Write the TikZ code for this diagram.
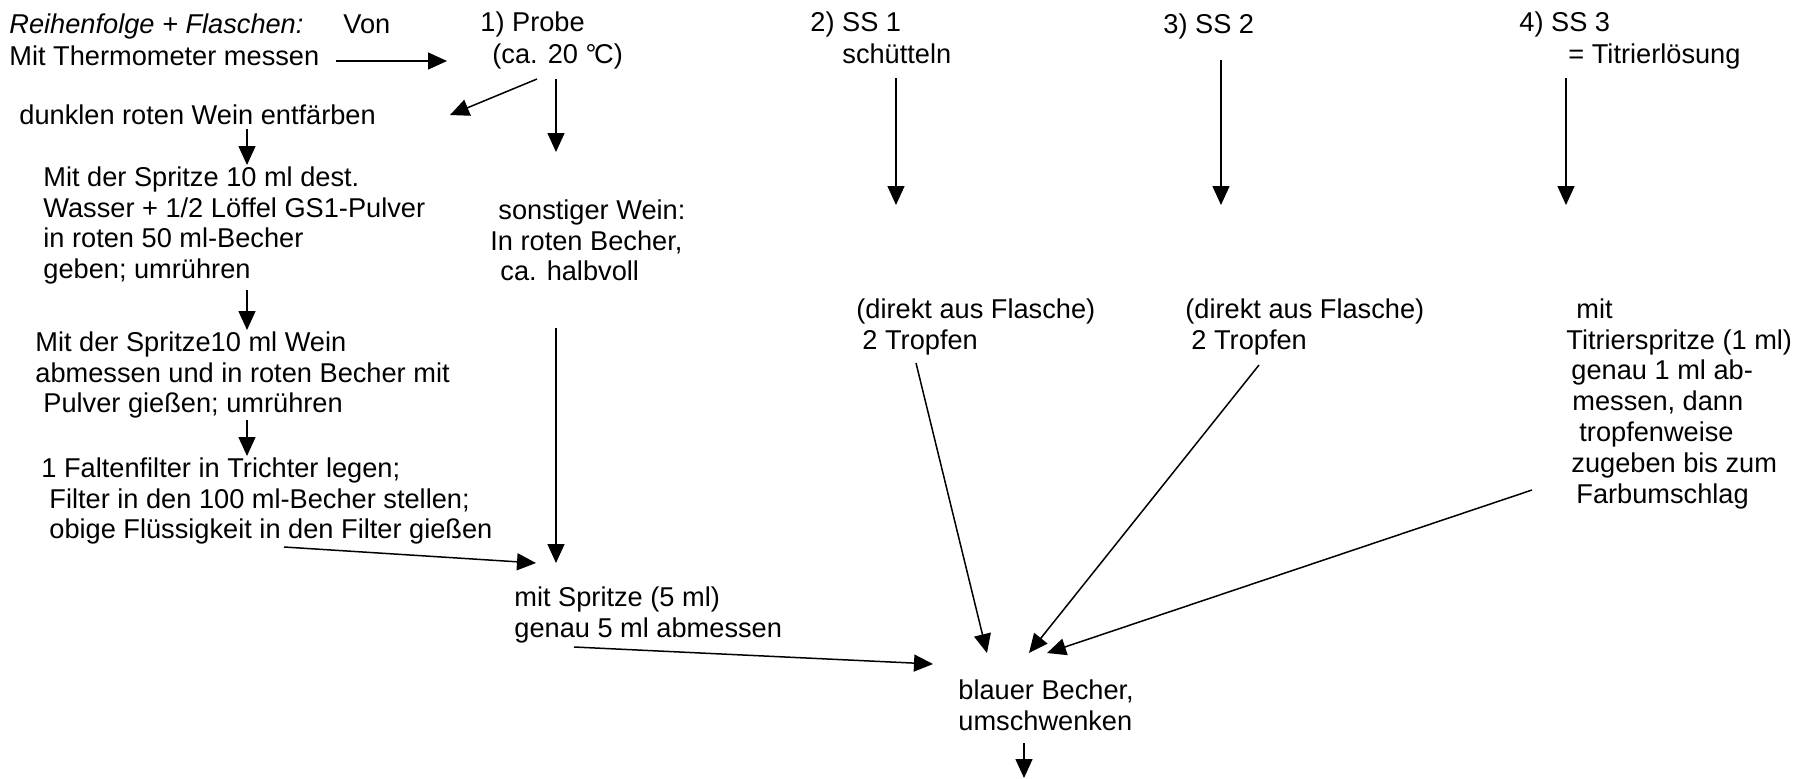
\documentclass[tikz,border=0pt]{standalone}
\usepackage{fontspec}
\setmainfont{Liberation Sans}
\usetikzlibrary{arrows.meta}
\begin{document}
\begin{tikzpicture}[x=0.5pt,y=-0.5pt,
  txt/.style={anchor=north west, inner sep=0pt, align=left,
    font=\fontsize{13.6pt}{15.4pt}\selectfont, execute at begin node=\strut, yshift=5.9pt},
  arr/.style={-{Triangle[length=9.5pt,width=8.5pt]}, line width=0.75pt}]
\useasboundingbox (0,0) rectangle (1811,778);
% header rows
\node[txt] (title) at (9,23) {\itshape Reihenfolge + Flaschen:};
\node[txt] (von) at (343,23) {Von};
\node[txt] (thermo) at (9,55) {Mit Thermometer messen};
\node[txt] (probe) at (480,23) {1) Probe\\[0.6pt]\hspace*{6pt}(ca. 20 °\kern-1.2pt C)};
\node[txt] (ss1) at (810,23) {2) SS 1\\[0.6pt]\hspace*{16pt}schütteln};
\node[txt] (ss2) at (1163,23) {3) SS 2};
\node[txt] (ss3) at (1519,23) {4) SS 3\\[0.6pt]\hspace*{24.5pt}= Titrierlösung};
% left column
\node[txt] (entf) at (19,114) {dunklen roten Wein entfärben};
\node[txt] (b1) at (43,178) {Mit der Spritze 10 ml dest.\\Wasser + 1/2 Löffel GS1-Pulver\\in roten 50 ml-Becher\\geben; umrühren};
\node[txt] (sonst) at (490,211) {\hspace*{4pt}sonstiger Wein:\\In roten Becher,\\\hspace*{5pt}ca. halbvoll};
\node[txt] (b2) at (35,343) {Mit der Spritze10 ml Wein\\abmessen und in roten Becher mit\\\hspace*{4pt}Pulver gießen; umrühren};
\node[txt] (b3) at (41,469) {1 Faltenfilter in Trichter legen;\\\hspace*{4pt}Filter in den 100 ml-Becher stellen;\\\hspace*{4pt}obige Flüssigkeit in den Filter gießen};
\node[txt] (spr5) at (514,598) {mit Spritze (5 ml)\\genau 5 ml abmessen};
% right part
\node[txt] (dir1) at (856,310) {(direkt aus Flasche)\\\hspace*{3pt}2 Tropfen};
\node[txt] (dir2) at (1185,310) {(direkt aus Flasche)\\\hspace*{3pt}2 Tropfen};
\node[txt] (titr) at (1566,310) {\hspace*{5pt}mit\\Titrierspritze (1 ml)\\\hspace*{2.5pt}genau 1 ml ab-\\\hspace*{3pt}messen, dann\\\hspace*{6.5pt}tropfenweise\\\hspace*{2.5pt}zugeben bis zum\\\hspace*{5pt}Farbumschlag};
\node[txt] (blau) at (958,691) {blauer Becher,\\umschwenken};
% connector end points
\coordinate (aS) at (336,61);  \coordinate (aE) at (447,61);
\coordinate (bS) at (537,79);  \coordinate (bE) at (450,115);
\coordinate (cS) at (556,79);  \coordinate (cE) at (556,152);
\coordinate (dS) at (247,129); \coordinate (dE) at (247,165);
\coordinate (eS) at (247,290); \coordinate (eE) at (247,330);
\coordinate (fS) at (247,420); \coordinate (fE) at (247,456);
\coordinate (gS) at (284,547); \coordinate (gE) at (536,563);
\coordinate (hS) at (556,328); \coordinate (hE) at (556,563);
\coordinate (iS) at (574,647); \coordinate (iE) at (933,664);
\coordinate (jS) at (896,78);  \coordinate (jE) at (896,205);
\coordinate (kS) at (1221,60); \coordinate (kE) at (1221,205);
\coordinate (lS) at (1566,78); \coordinate (lE) at (1566,205);
\coordinate (mS) at (916,363); \coordinate (mE) at (987,653);
\coordinate (nS) at (1259,365);\coordinate (nE) at (1029,653);
\coordinate (oS) at (1532,490);\coordinate (oE) at (1047,653);
\coordinate (pS) at (1024,743);\coordinate (pE) at (1024,778);
\foreach \a in {a,b,c,d,e,f,g,h,i,j,k,l,m,n,o,p}{\draw[arr] (\a S) -- (\a E);}
\end{tikzpicture}
\end{document}
